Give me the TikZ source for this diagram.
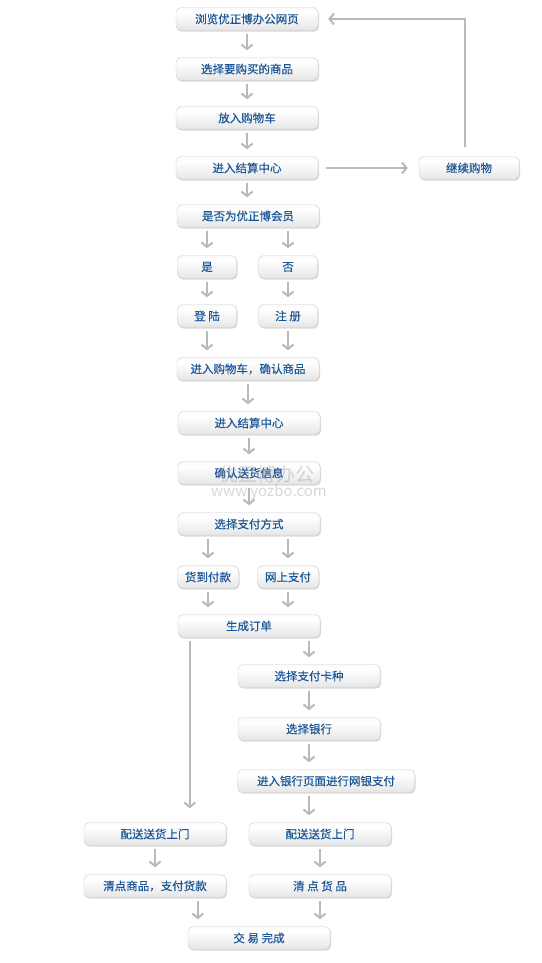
\documentclass[tikz,border=0pt]{standalone}
\usepackage{fontspec}
\usepackage{xcolor}
\usepackage{tikz}
\usetikzlibrary{arrows.meta, shadows}
\newfontfamily\cjk{Noto Sans CJK SC}
\newfontfamily\cjkdark[FakeBold=0.3]{Noto Sans CJK SC}
\definecolor{boxblue}{RGB}{26,86,150}
\pgfdeclareverticalshading{btnshade}{100bp}{color(0bp)=(gray!40); color(35bp)=(gray!15); color(65bp)=(white); color(85bp)=(gray!6); color(100bp)=(gray!18)}

\begin{document}
\begin{tikzpicture}[
    x=1pt, y=-1pt,
    box/.style={rectangle, rounded corners=5pt, draw=gray!38, shading=btnshade, drop shadow={shadow xshift=1pt, shadow yshift=-1.2pt, fill=black, opacity=0.15}, minimum width=142pt, minimum height=23pt, inner sep=0pt, text=boxblue, font=\cjkdark\fontsize{11.5}{13}\selectfont},
    smallbox/.style={box, minimum width=59pt},
    arrow/.style={draw=gray!55, line width=2pt, -{Straight Barb[length=4.5pt,width=11pt]}, shorten <=3pt, shorten >=7pt},
    backline/.style={draw=gray!55, line width=2pt, -{Straight Barb[length=4.5pt,width=11pt]}},
    watermark/.style={text=gray, opacity=0.3}
]
\fill[white] (0,0) rectangle (541,963);
\useasboundingbox (0,0) rectangle (541,963);

\node[box] (browse) at (247,19) {浏览优正博办公网页};
\node[box] (select) at (247,69) {选择要购买的商品};
\node[box] (cart) at (247,118) {放入购物车};
\node[box] (checkout) at (247,168) {进入结算中心};
\node[box, minimum width=100pt] (goon) at (469,168) {继续购物};
\node[box] (member) at (248,216) {是否为优正博会员};
\node[smallbox] (yes) at (207,267) {是};
\node[smallbox] (no) at (288,267) {否};
\node[smallbox] (login) at (207,316) {登 陆};
\node[smallbox] (register) at (288,316) {注 册};
\node[box] (confirm) at (248,369) {进入购物车，确认商品};
\node[box] (checkout2) at (249,423) {进入结算中心};
\node[box] (address) at (249,473) {确认送货信息};
\node[box] (paytype) at (249,524) {选择支付方式};
\node[smallbox, minimum width=61pt] (cod) at (208,577) {货到付款};
\node[smallbox, minimum width=61pt] (online) at (288,577) {网上支付};
\node[box] (order) at (249,626) {生成订单};
\node[box] (card) at (309,676) {选择支付卡种};
\node[box] (bank) at (309,729) {选择银行};
\node[box, minimum width=177pt] (ebank) at (326,781) {进入银行页面进行网银支付};
\node[box] (ldeliver) at (155,834) {配送送货上门};
\node[box] (rdeliver) at (320,834) {配送送货上门};
\node[box] (lcount) at (155,886) {清点商品，支付货款};
\node[box] (rcount) at (320,886) {清 点 货 品};
\node[box] (done) at (259,938) {交 易 完成};

\node[watermark, font=\cjk\fontsize{19}{20}\selectfont] (mark) at (267,474) {优正博办公};
\node[watermark, font=\cjk\fontsize{15}{16}\selectfont] (markurl) at (269,492) {www.yozbo.com};

\draw[arrow] (browse.south) -- (select.north);
\draw[arrow] (select.south) -- (cart.north);
\draw[arrow] (cart.south) -- (checkout.north);
\draw[arrow] (checkout.south) -- (checkout.south |- member.north);
\draw[arrow, shorten <=8pt, shorten >=11pt] (checkout.east) -- (goon.west);
\draw[backline, shorten <=9pt, shorten >=10pt] ([xshift=-4pt]goon.north) |- (browse.east);

\draw[arrow] (member.south -| yes) -- (yes.north);
\draw[arrow] (member.south -| no) -- (no.north);
\draw[arrow] (yes.south) -- (login.north);
\draw[arrow] (no.south) -- (register.north);
\draw[arrow] (login.south) -- (login.south |- confirm.north);
\draw[arrow] (register.south) -- (register.south |- confirm.north);
\draw[arrow] (confirm.south) -- (confirm.south |- checkout2.north);
\draw[arrow] (checkout2.south) -- (address.north);
\draw[arrow] (address.south) -- (paytype.north);

\draw[arrow] (paytype.south -| cod) -- (cod.north);
\draw[arrow] (paytype.south -| online) -- (online.north);
\draw[arrow] (cod.south) -- (cod.south |- order.north);
\draw[arrow] (online.south) -- (online.south |- order.north);

\coordinate (split) at ([xshift=12pt]order.south west);
\draw[arrow, shorten >=14pt] (split) -- (split |- ldeliver.north);
\draw[arrow] (order.south -| card) -- (card.north);
\draw[arrow] (card.south) -- (bank.north);
\draw[arrow] (bank.south) -- (bank.south |- ebank.north);
\draw[arrow] (ebank.south -| bank) -- (bank |- rdeliver.north);

\draw[arrow] (ldeliver.south) -- (lcount.north);
\draw[arrow] (rdeliver.south) -- (rcount.north);
\coordinate (donein) at ([xshift=10pt]done.north west);
\draw[arrow] (lcount.south -| donein) -- (donein);
\draw[arrow] (rcount.south) -- (rcount.south |- done.north);

\end{tikzpicture}
\end{document}
